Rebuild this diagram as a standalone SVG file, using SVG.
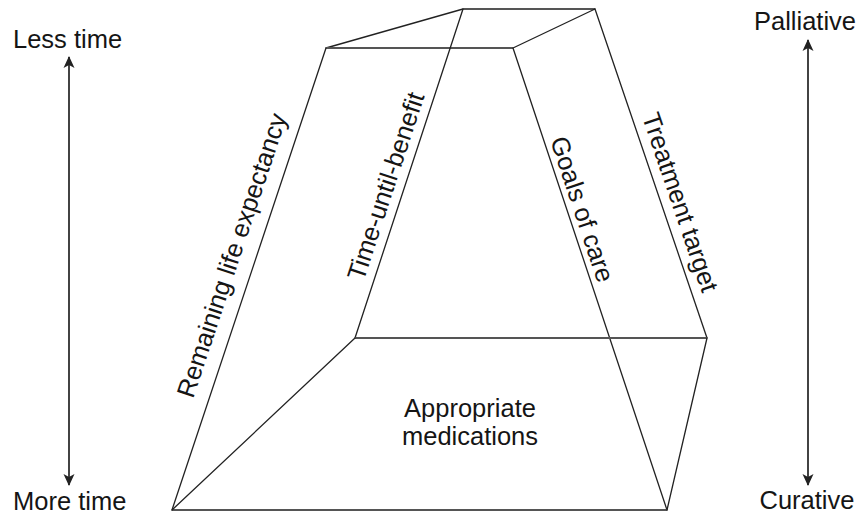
<svg xmlns="http://www.w3.org/2000/svg" width="862" height="516" viewBox="0 0 862 516">
<style>
  .edge { stroke: #222; stroke-width: 1.3; fill: none; stroke-linecap: round; }
  .hedge { stroke: #555; stroke-width: 1.8; fill: none; }
  .axis { stroke: #222; stroke-width: 1.7; fill: none; }
  text { font-family: "Liberation Sans", Arial, sans-serif; font-size: 25.5px; fill: #151515; }
</style>
<defs>
  <marker id="ah" viewBox="0 0 12 12" refX="11" refY="6" markerWidth="12" markerHeight="12" markerUnits="userSpaceOnUse" orient="auto-start-reverse">
    <path d="M0,0.5 L12,6 L0,11.5 L3,6 Z" fill="#222"/>
  </marker>
</defs>
<rect width="862" height="516" fill="#fff"/>
<g id="connectors">
  <!-- top face -->
  <line class="edge" x1="326" y1="48" x2="463" y2="9"/>
  <line class="hedge" x1="463" y1="9" x2="595" y2="9"/>
  <line class="edge" x1="595" y1="9" x2="513" y2="48"/>
  <line class="hedge" x1="326" y1="48" x2="513" y2="48"/>
  <!-- lateral edges -->
  <line class="edge" x1="326" y1="48" x2="172" y2="510"/>
  <line class="edge" x1="463" y1="9" x2="355" y2="338"/>
  <line class="edge" x1="513" y1="48" x2="667" y2="510"/>
  <line class="edge" x1="595" y1="9" x2="707" y2="338"/>
  <!-- bottom face -->
  <line class="hedge" x1="172" y1="510" x2="667" y2="510"/>
  <line class="hedge" x1="355" y1="338" x2="707" y2="338"/>
  <line class="edge" x1="172" y1="510" x2="355" y2="338"/>
  <line class="edge" x1="667" y1="510" x2="707" y2="338"/>
  <!-- axes -->
  <line class="axis" x1="69" y1="57" x2="69" y2="485" marker-start="url(#ah)" marker-end="url(#ah)"/>
  <line class="axis" x1="808" y1="40" x2="808" y2="485" marker-start="url(#ah)" marker-end="url(#ah)"/>
</g>
<g id="label-less-time"><text x="13" y="48">Less time</text></g>
<g id="label-more-time"><text x="13" y="510">More time</text></g>
<g id="label-palliative"><text x="805" y="30" text-anchor="middle">Palliative</text></g>
<g id="label-curative"><text x="807" y="509" text-anchor="middle">Curative</text></g>
<g id="label-remaining"><text transform="translate(240,258) rotate(-71.6)" text-anchor="middle">Remaining life expectancy</text></g>
<g id="label-time-until"><text transform="translate(394,189) rotate(-71.8)" text-anchor="middle">Time-until-benefit</text></g>
<g id="label-goals"><text transform="translate(574,212) rotate(71.6)" text-anchor="middle">Goals of care</text></g>
<g id="label-treatment"><text transform="translate(672,205) rotate(71.2)" text-anchor="middle">Treatment target</text></g>
<g id="label-appropriate"><text x="470" y="417" text-anchor="middle">Appropriate</text><text x="470" y="445" text-anchor="middle">medications</text></g>
</svg>
